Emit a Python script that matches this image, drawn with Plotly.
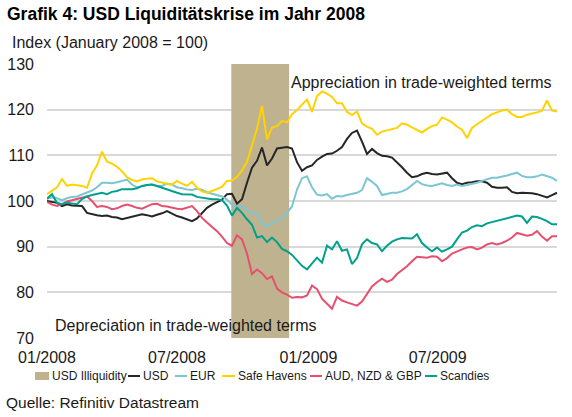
import pandas as pd
import plotly.graph_objects as go

# ---------------- data (weekly readings, index Jan 2008 = 100) ----------------
dates = pd.date_range("2008-01-01", periods=103, freq="7D")

safe_havens = [101.5, 102.3, 103.0, 104.8, 103.3, 103.6, 103.5, 103.3, 102.9, 106.0,
               107.8, 110.8, 108.6, 108.2, 107.5, 106.5, 105.2, 104.6, 104.3, 104.7,
               104.9, 105.0, 104.3, 104.0, 103.8, 103.6, 104.4, 103.8, 103.3, 104.2,
               102.9, 102.1, 101.8, 102.2, 102.6, 103.1, 104.4, 104.5, 105.3, 106.7,
               108.6, 112.2, 115.8, 120.8, 113.5, 116.1, 116.4, 117.5, 117.2, 119.0,
               119.9, 121.1, 122.2, 119.5, 123.0, 124.0, 123.5, 122.8, 121.4, 121.4,
               119.5, 118.8, 119.6, 117.0, 116.3, 115.8, 114.5, 115.2, 115.5, 115.8,
               116.0, 117.0, 116.7, 116.1, 115.6, 115.0, 115.8, 116.4, 116.7, 118.3,
               117.8, 117.2, 116.3, 115.6, 113.8, 116.0, 116.8, 117.5, 118.2, 119.0,
               119.4, 119.8, 120.0, 119.0, 118.4, 118.4, 118.9, 119.1, 119.4, 119.8,
               122.0, 119.8, 119.6]

usd = [100.0, 99.8, 99.6, 98.9, 99.3, 99.0, 98.9, 98.9, 97.4, 97.1,
       96.9, 96.7, 96.8, 96.5, 96.4, 96.0, 96.3, 96.6, 96.8, 97.1,
       96.9, 96.6, 97.0, 97.3, 97.8, 97.2, 96.7, 96.4, 96.0, 95.6,
       96.2, 97.3, 98.5, 99.2, 99.7, 100.3, 101.5, 101.6, 99.4, 100.4,
       104.0, 107.3, 108.8, 111.7, 107.8, 109.3, 111.5, 111.6, 111.8, 111.5,
       108.5, 106.6, 107.4, 107.8, 109.0, 109.7, 110.3, 110.4, 111.0, 111.8,
       113.6, 114.9, 115.4, 113.0, 110.3, 111.4, 110.5, 109.9, 109.8, 109.5,
       108.5, 107.4, 106.2, 105.2, 105.4, 105.9, 106.2, 105.9, 105.8, 106.0,
       106.2, 105.0, 104.0, 103.7, 104.0, 104.1, 104.3, 104.3, 104.0, 103.1,
       102.9, 102.9, 103.0, 102.0, 101.7, 101.8, 101.8, 101.7, 101.5, 101.1,
       100.8, 101.3, 101.8]

eur = [100.5, 100.8, 100.6, 100.2, 100.6, 100.9, 101.0, 101.4, 101.8, 102.3,
       103.0, 104.0, 104.0, 103.9, 104.1, 104.4, 104.7, 103.6, 103.0, 103.2,
       103.5, 103.6, 103.3, 103.3, 103.8, 103.6, 103.0, 102.8, 102.5, 102.4,
       102.7, 102.5, 101.9, 101.6, 101.3, 101.0, 100.3, 99.2, 98.5, 99.0,
       98.0, 97.5, 97.4, 95.2, 94.3, 95.2, 95.8, 96.2, 97.4, 98.8,
       102.5, 105.0, 105.4, 103.0, 101.4, 101.2, 101.5, 100.5, 101.1, 101.0,
       101.3, 101.6, 101.8, 102.4, 105.0, 104.2, 103.3, 101.3, 101.6, 101.8,
       101.8, 102.1, 102.6, 103.4, 104.4, 103.7, 103.4, 103.3, 103.6, 103.9,
       103.5, 103.3, 103.6, 103.3, 103.5, 103.7, 104.0, 104.4, 104.8, 105.1,
       105.1, 105.3, 105.6, 105.9, 106.2, 105.5, 105.2, 105.2, 105.4, 105.8,
       105.5, 105.1, 104.4]

aud_nzd_gbp = [99.8, 99.2, 98.9, 99.3, 99.9, 100.2, 100.5, 100.7, 101.0, 100.0,
               98.7, 98.9, 98.7, 98.2, 98.4, 98.9, 99.2, 98.9, 98.5, 98.3,
               98.8, 99.3, 99.4, 98.9, 98.8, 98.5, 98.3, 98.2, 98.6, 98.9,
               97.8, 96.3, 95.3, 94.4, 93.4, 92.2, 90.8, 90.2, 92.5, 91.6,
               88.5, 84.0, 85.0, 84.2, 82.9, 83.5, 80.8, 80.0, 79.5, 78.8,
               79.0, 78.9, 79.3, 81.5, 80.7, 78.6, 77.5, 76.4, 79.0, 78.2,
               77.8, 77.5, 77.1, 78.0, 79.8, 81.3, 82.2, 83.0, 82.3, 82.8,
               84.0, 84.8, 85.7, 86.8, 87.8, 87.7, 87.6, 87.9, 87.8, 86.8,
               87.5, 88.5, 89.0, 89.4, 89.8, 89.9, 89.4, 89.8, 90.5, 90.8,
               90.5, 90.8, 91.3, 92.0, 93.0, 92.7, 92.4, 92.6, 93.4, 92.2,
               91.3, 92.3, 92.3]

scandies = [100.5, 101.5, 99.6, 99.3, 99.6, 99.5, 99.3, 100.4, 101.0, 101.3,
            101.6, 101.8, 101.5, 102.0, 102.2, 102.6, 102.6, 102.6, 102.8, 103.3,
            103.5, 103.6, 103.3, 102.9, 102.6, 102.2, 101.8, 101.5, 101.5, 101.4,
            100.9, 100.7, 100.6, 100.4, 100.4, 100.2, 99.0, 96.8, 98.5, 97.4,
            96.0, 94.8, 92.0, 92.3, 91.0, 92.0, 91.0, 89.5, 89.0, 88.2,
            87.0, 85.8, 85.0, 86.3, 87.6, 86.5, 90.2, 89.4, 91.2, 89.1,
            89.4, 86.2, 87.5, 90.5, 91.6, 90.8, 90.5, 89.0, 90.2, 91.1,
            91.6, 91.9, 91.8, 91.8, 92.7, 90.8, 89.8, 89.0, 89.8, 88.9,
            89.4, 90.0, 91.6, 93.1, 93.5, 94.3, 94.7, 94.5, 95.1, 95.4,
            95.7, 95.9, 96.2, 96.5, 96.8, 96.6, 95.2, 96.6, 96.5, 96.1,
            95.6, 94.9, 94.9]

band_name = "USD Illiquidity"
band_start = "2008-09-15"
band_end = "2008-12-05"

series_names = ["USD", "EUR", "Safe Havens", "AUD, NZD & GBP", "Scandies"]
series_values = [usd, eur, safe_havens, aud_nzd_gbp, scandies]

x_tick_vals = ["2008-01-01", "2008-07-01", "2009-01-01", "2009-07-01"]
x_tick_text = ["01/2008", "07/2008", "01/2009", "07/2009"]
y_tick_vals = [70, 80, 90, 100, 110, 120, 130]

# ---------------- styling ----------------
colors = ["#262626", "#7CC6D4", "#FFD200", "#E6506E", "#00A08C"]
band_color = "#BFB38F"
FONT = "Liberation Sans, Arial, sans-serif"

W, H = 572, 417
L, R, T, B = 47, 15, 64, 79
PW, PH = W - L - R, H - T - B


def px(x):
    return (x - L) / PW


def py(y):
    return (H - B - y) / PH


fig = go.Figure()
for name, vals, col in zip(series_names, series_values, colors):
    fig.add_trace(go.Scatter(x=dates, y=vals, mode="lines", name=name,
                             line=dict(color=col, width=2), showlegend=False))

# shaded period
fig.add_shape(type="rect", xref="x", yref="y", x0=band_start, x1=band_end,
              y0=70, y1=130, fillcolor=band_color, line=dict(width=0),
              layer="between")

annotations = [
    dict(text="<b>Grafik 4: USD Liquiditätskrise im Jahr 2008</b>", x=px(6), y=py(14),
         font=dict(size=17.5, color="#000000")),
    dict(text="Index (January 2008 = 100)", x=px(11), y=py(42),
         font=dict(size=16, color="#1a1a1a")),
    dict(text="Appreciation in trade-weighted terms", x=px(290), y=py(82),
         font=dict(size=16, color="#1a1a1a")),
    dict(text="Depreciation in trade-weighted terms", x=px(54), y=py(325),
         font=dict(size=16, color="#1a1a1a")),
    dict(text="Quelle: Refinitiv Datastream", x=px(5), y=py(403),
         font=dict(size=15.5, color="#1a1a1a")),
]

# custom legend
LEG_Y = 376
legend_items = [(band_name, band_color, "box", 35, 49, 51)]
line_pos = [(128, 140, 142), (175, 187, 189), (222, 235, 237), (310, 322, 324), (425, 437, 439)]
for name, col, (x0, x1, xt) in zip(series_names, colors, line_pos):
    legend_items.append((name, col, "line", x0, x1, xt))

for name, col, kind, x0, x1, xt in legend_items:
    if kind == "box":
        fig.add_shape(type="rect", xref="paper", yref="paper", x0=px(x0), x1=px(x1),
                      y0=py(LEG_Y + 4), y1=py(LEG_Y - 4), fillcolor=col, line=dict(width=0))
    else:
        fig.add_shape(type="line", xref="paper", yref="paper", x0=px(x0), x1=px(x1),
                      y0=py(LEG_Y), y1=py(LEG_Y), line=dict(color=col, width=2))
    annotations.append(dict(text=name, x=px(xt), y=py(LEG_Y),
                            font=dict(size=12, color="#1a1a1a")))

for a in annotations:
    a.update(xref="paper", yref="paper", xanchor="left", yanchor="middle",
             showarrow=False, borderpad=0)

fig.update_layout(
    width=W, height=H,
    margin=dict(l=L, r=R, t=T, b=B, pad=0, autoexpand=False),
    paper_bgcolor="white", plot_bgcolor="white",
    font=dict(family=FONT, size=16, color="#1a1a1a"),
    showlegend=False,
    annotations=annotations,
    xaxis=dict(range=["2008-01-01", "2009-12-15"], tickvals=x_tick_vals,
               ticktext=x_tick_text, showgrid=False, zeroline=False,
               showline=False, ticks="", ticklabelstandoff=8, automargin=False,
               tickfont=dict(size=16)),
    yaxis=dict(range=[70, 130], tickvals=y_tick_vals, showgrid=True,
               gridcolor="#D9D9D9", gridwidth=1.5, zeroline=False,
               showline=False, ticks="", ticklabelstandoff=12, automargin=False,
               tickfont=dict(size=16)),
)

fig.write_html("out.html",
               config={"displayModeBar": False},
               post_script="document.body.style.margin='0';"
                           "document.body.style.overflow='hidden';")
